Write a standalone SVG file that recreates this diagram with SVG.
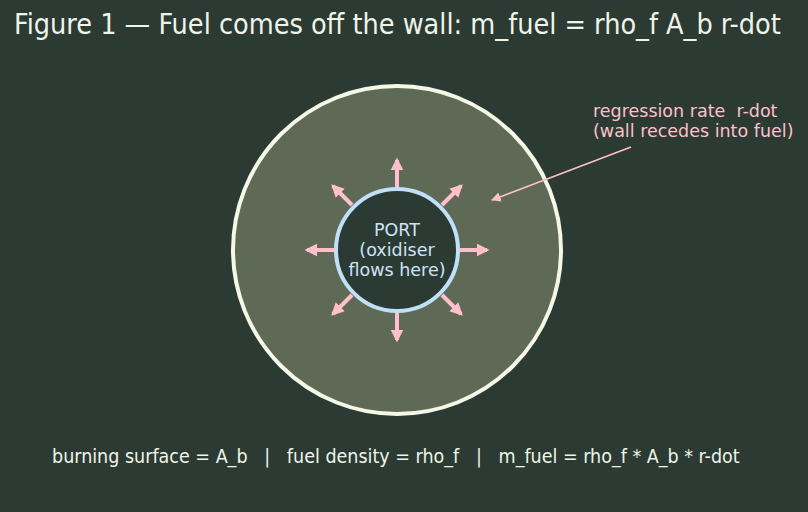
<svg xmlns="http://www.w3.org/2000/svg" width="808" height="512" viewBox="0 0 808 512" xml:space="preserve">
<defs>
<style>
text{white-space:pre}
.title{font-family:"DejaVu Sans Condensed","DejaVu Sans",sans-serif;font-size:28.5px;fill:#f0f4e8}
.foot{font-family:"DejaVu Sans Condensed","DejaVu Sans",sans-serif;font-size:19.5px;fill:#f0f4e8}
.port{font-family:"DejaVu Sans",sans-serif;font-size:17.5px;fill:#cfe3f7;text-anchor:middle}
.note{font-family:"DejaVu Sans",sans-serif;font-size:17.5px;fill:#ffc0cb}
.flux{stroke:#ffc0cb;stroke-width:4;fill:none;marker-end:url(#ah)}
</style>
<marker id="ah" viewBox="0 0 10 10" refX="8" refY="5" markerWidth="3.2" markerHeight="3.2" orient="auto" markerUnits="strokeWidth">
<path d="M0,0 L10,5 L0,10 z" fill="#ffc0cb"/>
</marker>
<marker id="ah2" viewBox="0 0 10 10" refX="9" refY="5" markerWidth="6" markerHeight="6" orient="auto" markerUnits="strokeWidth">
<path d="M0,0 L10,5 L0,10 z" fill="#ffc0cb"/>
</marker>
</defs>
<rect width="808" height="512" fill="#2b3a33"/>
<text class="title" x="14" y="34">Figure 1 — Fuel comes off the wall: m_fuel = rho_f A_b r-dot</text>
<g id="grain">
<circle cx="397" cy="250" r="164" fill="#5f6a56" stroke="#f5f8e6" stroke-width="4"/>
</g>
<g id="connectors">
<line class="flux" x1="397" y1="187" x2="397" y2="160"/>
<line class="flux" x1="397" y1="313" x2="397" y2="340"/>
<line class="flux" x1="460" y1="250" x2="487" y2="250"/>
<line class="flux" x1="334" y1="250" x2="307" y2="250"/>
<line class="flux" x1="442" y1="205" x2="461" y2="186"/>
<line class="flux" x1="352" y1="205" x2="333" y2="186"/>
<line class="flux" x1="442" y1="295" x2="461" y2="314"/>
<line class="flux" x1="352" y1="295" x2="333" y2="314"/>
<line x1="631" y1="147" x2="492" y2="200" stroke="#ffc0cb" stroke-width="1.6" marker-end="url(#ah2)"/>
</g>
<g id="port">
<circle cx="397" cy="250" r="61" fill="#2b3a33" stroke="#bfe0f8" stroke-width="4"/>
<text class="port" x="397" y="236">PORT</text>
<text class="port" x="397" y="256">(oxidiser</text>
<text class="port" x="397" y="276">flows here)</text>
</g>
<g id="note">
<text class="note" x="593" y="117">regression rate  r-dot</text>
<text class="note" x="593" y="137">(wall recedes into fuel)</text>
</g>
<text class="foot" x="52" y="463">burning surface = A_b   |   fuel density = rho_f   |   m_fuel = rho_f * A_b * r-dot</text>
</svg>
